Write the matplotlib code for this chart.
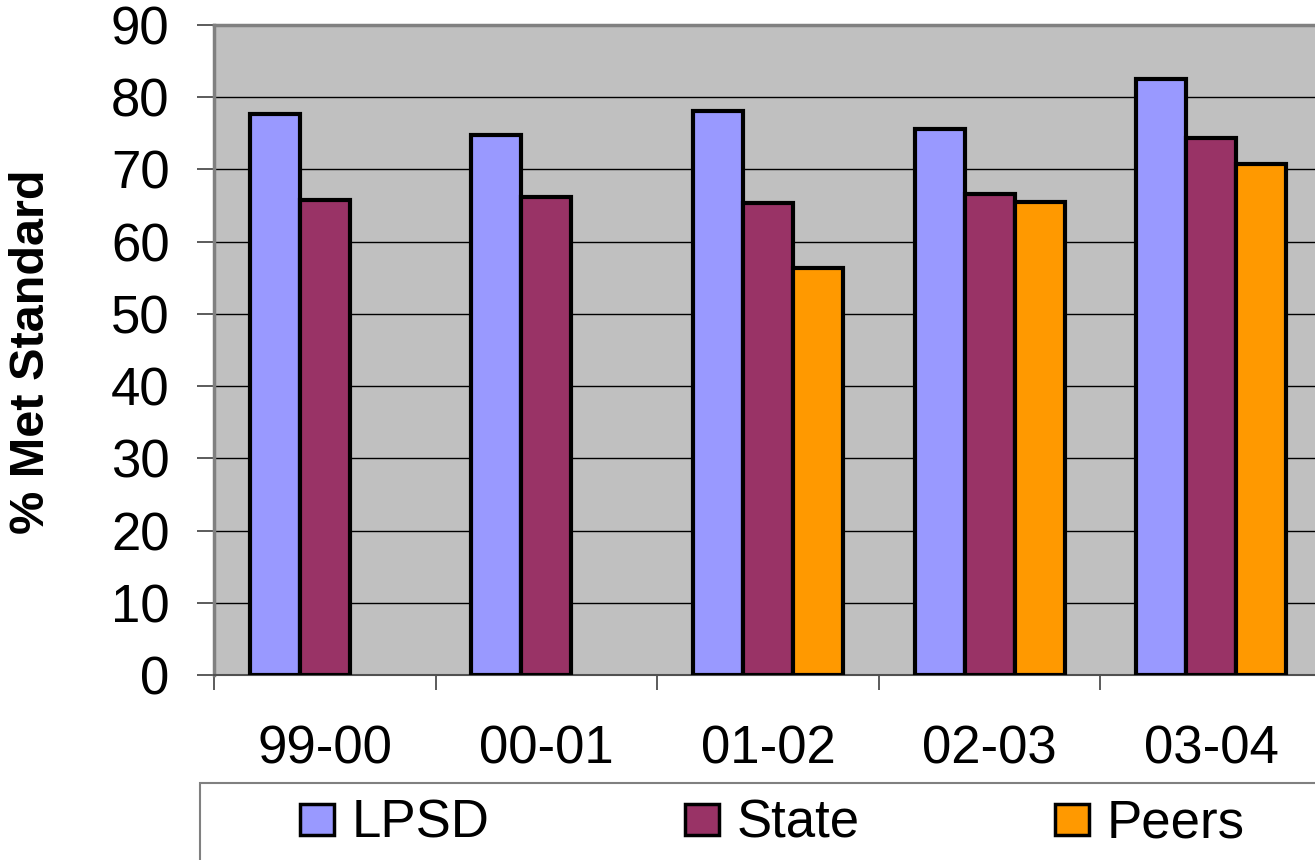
import matplotlib
matplotlib.use('Agg')
import matplotlib.pyplot as plt
import numpy as np
from matplotlib.patches import Patch, Rectangle

plt.rcParams['font.family'] = ['Liberation Sans', 'DejaVu Sans']

# --- data ---
years = ['99-00', '00-01', '01-02', '02-03', '03-04']
lpsd = [77.7, 74.8, 78.1, 75.6, 82.5]
state = [65.8, 66.2, 65.4, 66.6, 74.4]
peers = [np.nan, np.nan, 56.4, 65.5, 70.7]

series = [('LPSD', lpsd, '#9999FF'),
          ('State', state, '#993366'),
          ('Peers', peers, '#FF9900')]

W, H = 1315, 860
fig = plt.figure(figsize=(W / 100, H / 100), dpi=100)
ax = fig.add_axes([214 / W, 1 - 675 / H, 1108 / W, 650 / H])
ax.set_facecolor('#C0C0C0')

x = np.arange(len(years))
bw = 0.2255
for i, (name, vals, col) in enumerate(series):
    ax.bar(x + (i - 1) * bw, vals, bw, color=col, edgecolor='black',
           linewidth=3, label=name, zorder=3)

ax.set_xlim(-0.5, len(years) - 0.5)
ax.set_ylim(0, 90)
ax.set_yticks(np.arange(0, 91, 10))
ax.yaxis.grid(True, color='black', linewidth=1.0, zorder=1)
ax.set_axisbelow(True)

# category boundaries as major ticks, labels on minor ticks
ax.set_xticks(np.arange(-0.5, len(years), 1.0))
ax.set_xticklabels([])
ax.set_xticks(x, minor=True)
ax.set_xticklabels(years, minor=True, fontsize=38)
ax.tick_params(axis='x', which='major', length=11, width=1.2, color='#404040')
ax.tick_params(axis='x', which='minor', length=0, pad=36)
ax.tick_params(axis='y', length=12, width=1.2, color='#404040', pad=20,
               labelsize=38)

for side in ['top', 'left']:
    ax.spines[side].set_color('#808080')
    ax.spines[side].set_linewidth(2.5)
ax.spines['bottom'].set_color('#505050')
ax.spines['bottom'].set_linewidth(1.5)
ax.spines['right'].set_visible(False)

fig.text(32 / W, 1 - 352 / H, '% Met Standard', rotation=90, ha='center',
         va='center', fontsize=35, fontweight='bold')

# legend frame extends past the figure edge like in the original
fig.patches.append(Rectangle((200 / W, -0.05), 1.2, (860 - 783) / H + 0.05,
                             transform=fig.transFigure, facecolor='white',
                             edgecolor='#808080', linewidth=1.5, zorder=0))
handles = [Patch(facecolor=c, edgecolor='black', linewidth=2.5, label=n)
           for n, _, c in series]
fig.legend(handles=handles, loc='center left', ncol=3,
           bbox_to_anchor=(274 / W, 1 - 824 / H), frameon=False,
           fontsize=38, borderpad=0, handlelength=0.64, handleheight=0.53,
           handletextpad=0.34, columnspacing=3.7)

fig.savefig('out.png', dpi=100)
